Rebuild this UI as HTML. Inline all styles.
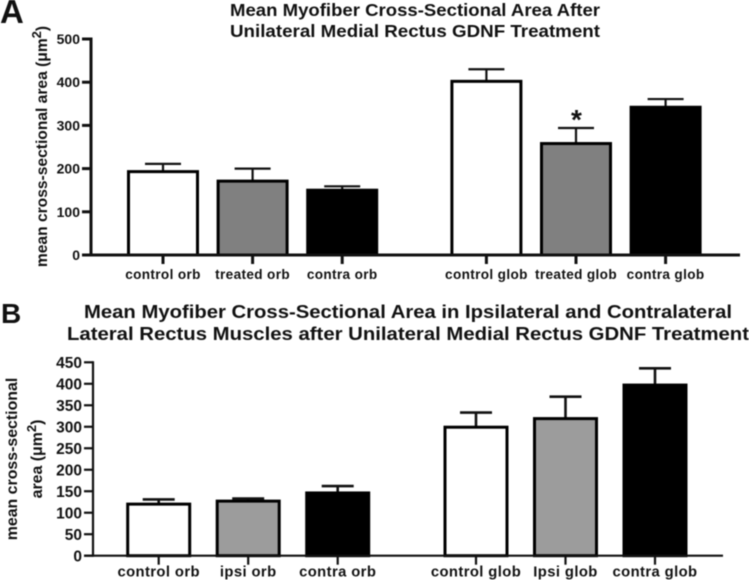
<!DOCTYPE html>
<html>
<head>
<meta charset="utf-8">
<title>Mean Myofiber Cross-Sectional Area</title>
<style>
html,body{margin:0;padding:0;background:#fff;width:749px;height:580px;overflow:hidden}
svg{display:block;font-family:"Liberation Sans",sans-serif;font-weight:bold;fill:#111;filter:blur(0.4px)}
</style>
</head>
<body>
<svg id="figure" xmlns="http://www.w3.org/2000/svg" width="749" height="580" viewBox="0 0 749 580">
  <text x="0" y="23" font-size="33" fill="#111">A</text>
  <text x="1" y="323" font-size="28" fill="#111">B</text>

  <text x="415" y="16" font-size="17.6" text-anchor="middle" textLength="370" lengthAdjust="spacingAndGlyphs">Mean Myofiber Cross-Sectional Area After</text>
  <text x="415" y="37" font-size="17.6" text-anchor="middle" textLength="370" lengthAdjust="spacingAndGlyphs">Unilateral Medial Rectus GDNF Treatment</text>
  <text x="408" y="318" font-size="18.4" text-anchor="middle" textLength="648" lengthAdjust="spacingAndGlyphs">Mean Myofiber Cross-Sectional Area in Ipsilateral and Contralateral</text>
  <text x="408" y="340" font-size="18.4" text-anchor="middle" textLength="682" lengthAdjust="spacingAndGlyphs">Lateral Rectus Muscles after Unilateral Medial Rectus GDNF Treatment</text>

  <text transform="translate(47,146.5) rotate(-90)" font-size="15.6" text-anchor="middle">mean cross-sectional area (μm<tspan font-size="13" dy="-6">2</tspan><tspan dy="6">)</tspan></text>
  <text transform="translate(17,459) rotate(-90)" font-size="15.9" text-anchor="middle">mean cross-sectional</text>
  <text transform="translate(42,459) rotate(-90)" font-size="15.9" text-anchor="middle">area (μm<tspan font-size="13" dy="-6">2</tspan><tspan dy="6">)</tspan></text>

  <text x="576.5" y="129" font-size="28" text-anchor="middle" fill="#111">*</text>
  <g id="chart-a"></g>
  <g id="chart-b"></g>
</svg>
<script>
var aCategories = ['control orb', 'treated orb', 'contra orb', 'control glob', 'treated glob', 'contra glob'];
var aMeans = [193, 171, 150, 402, 258, 342];
var aErrorTops = [211, 200, 159, 430, 294, 361];
var aTicks = [0, 100, 200, 300, 400, 500];
var aFills = ['#ffffff', '#808080', '#000000', '#ffffff', '#808080', '#000000'];

var bCategories = ['control orb', 'ipsi orb', 'contra orb', 'control glob', 'Ipsi glob', 'contra glob'];
var bMeans = [120, 127, 146, 299, 319, 397];
var bErrorTops = [131, 133, 162, 333, 370, 436];
var bTicks = [0, 50, 100, 150, 200, 250, 300, 350, 400, 450];
var bFills = ['#ffffff', '#9c9c9c', '#000000', '#ffffff', '#9c9c9c', '#000000'];

var NS = 'http://www.w3.org/2000/svg';

function make(parent, tag, attrs) {
  var el = document.createElementNS(NS, tag);
  for (var k in attrs) { el.setAttribute(k, attrs[k]); }
  parent.appendChild(el);
  return el;
}

function drawChart(root, prefix, o, categories, means, errorTops, ticks, fills) {
  function yScale(v) { return o.y0 - (v - o.min) * (o.y0 - o.yTop) / (o.max - o.min); }
  function xScale(i) {
    var gap = i >= 3 ? o.groupGap : 0;
    return o.x0 + i * o.step + gap;
  }

  categories.forEach(function (cat, i) {
    var cx = xScale(i);
    var top = yScale(means[i]);
    var errY = yScale(errorTops[i]);
    var half = o.barW / 2;

    var stem = make(root, 'line', { x1: cx, x2: cx, y1: errY, y2: top, stroke: '#111', 'stroke-width': o.errW });
    
    

    var cap = make(root, 'line', { x1: cx - o.capW / 2, x2: cx + o.capW / 2, y1: errY, y2: errY, stroke: '#111', 'stroke-width': o.errW });
    
    

    var bar = make(root, 'rect', {
      x: cx - half + o.barStroke / 2,
      y: top,
      width: o.barW - o.barStroke,
      height: o.y0 - top,
      fill: fills[i],
      stroke: '#000',
      'stroke-width': o.barStroke
    });
    
    

    var tick = make(root, 'line', { x1: cx, x2: cx, y1: o.y0, y2: o.y0 + 9, stroke: '#111', 'stroke-width': o.axisW });
    
    

    var label = make(root, 'text', { x: cx, y: o.y0 + o.labelDy, 'font-size': o.xFont, 'text-anchor': 'middle', 'letter-spacing': o.xSpacing });
    label.textContent = cat;
    
    
  });

  ticks.forEach(function (t, i) {
    var y = yScale(t);
    var tk = make(root, 'line', { x1: o.axisX - 9, x2: o.axisX, y1: y, y2: y, stroke: '#111', 'stroke-width': o.axisW });
    
    

    var lbl = make(root, 'text', { x: o.axisX - 11, y: y + o.yFont * 0.36, 'font-size': o.yFont, 'text-anchor': 'end' });
    lbl.textContent = String(t);
    
    
  });

  var yAxis = make(root, 'line', { x1: o.axisX, x2: o.axisX, y1: o.yTop - o.axisW / 2, y2: o.y0 + o.axisW / 2, stroke: '#111', 'stroke-width': o.axisW });
  
  

  var xAxis = make(root, 'line', { x1: o.axisX - 9, x2: o.xEnd, y1: o.y0, y2: o.y0, stroke: '#111', 'stroke-width': o.axisW });
  
  
}

drawChart(document.getElementById('chart-a'), 'chart-a', {
  y0: 255, yTop: 39, min: 0, max: 500, axisX: 91, xEnd: 740,
  x0: 163, step: 89.6, groupGap: 54.6, barW: 72, barStroke: 3, capW: 36, errW: 2.2, axisW: 3,
  labelDy: 24, xFont: 13.6, xSpacing: 0.35, yFont: 14
}, aCategories, aMeans, aErrorTops, aTicks, aFills);

drawChart(document.getElementById('chart-b'), 'chart-b', {
  y0: 555.7, yTop: 362.3, min: 0, max: 450, axisX: 93, xEnd: 723,
  x0: 158.7, step: 89.5, groupGap: 48.8, barW: 65, barStroke: 3, capW: 32, errW: 2.6, axisW: 2.2,
  labelDy: 21, xFont: 14.8, xSpacing: 0.4, yFont: 15.5
}, bCategories, bMeans, bErrorTops, bTicks, bFills);
</script>
</body>
</html>
